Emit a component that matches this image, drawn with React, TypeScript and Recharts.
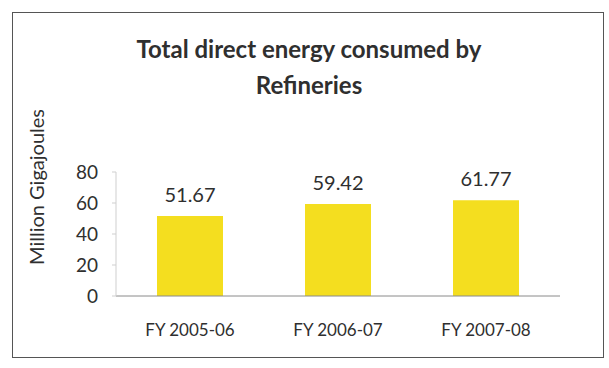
import React from "react";
import { BarChart, Bar, XAxis, YAxis, LabelList } from "recharts";

const categories = ["FY 2005-06", "FY 2006-07", "FY 2007-08"];
const energyValues = [51.67, 59.42, 61.77];
const yTicks = [0, 20, 40, 60, 80];
const titleLines = ["Total direct energy consumed by", "Refineries"];
const yAxisTitle = "Million Gigajoules";

const data = categories.map((c, i) => ({ name: c, value: energyValues[i] }));

const FONT = "Lato, 'Open Sans', sans-serif";
const TEXT = "#2f2f2f";

export default function App() {
  return (
    <div style={{ position: "absolute", left: 0, top: 0, width: 609, height: 368, background: "#fff", fontFamily: FONT }}>
      <div style={{ position: "absolute", left: 12, top: 12, width: 592, height: 346, border: "1.5px solid #555", boxSizing: "border-box" }} />
      <div style={{ position: "absolute", left: 0, top: 31, width: 618, textAlign: "center", fontWeight: 700, fontSize: 24, lineHeight: "36px", color: TEXT }}>
        {titleLines.map((t) => (
          <div key={t}>{t}</div>
        ))}
      </div>
      <div style={{ position: "absolute", left: 36, top: 187, width: 0, height: 0 }}>
        <div style={{ position: "absolute", left: 0, top: 0, transform: "translate(-50%, -50%) rotate(-90deg)", whiteSpace: "nowrap", fontSize: 20, lineHeight: "22px", color: TEXT }}>
          {yAxisTitle}
        </div>
      </div>
      <div style={{ position: "absolute", left: 0, top: 0 }}>
        <BarChart width={609} height={368} data={data} margin={{ top: 172, right: 49, bottom: 22, left: 0 }}>
          <XAxis
            dataKey="name"
            height={50}
            tickLine={false}
            tickSize={0}
            tickMargin={28}
            axisLine={{ stroke: "#8a8a8a", strokeWidth: 1 }}
            tick={{ fill: TEXT, fontSize: 17, fontFamily: FONT }}
          />
          <YAxis
            width={116}
            domain={[0, 80]}
            ticks={yTicks}
            interval={0}
            tickSize={4}
            tickMargin={14}
            axisLine={{ stroke: "#cfcfcf" }}
            tickLine={{ stroke: "#cfcfcf" }}
            tick={{ fill: TEXT, fontSize: 19, fontFamily: FONT }}
          />
          <Bar dataKey="value" fill="#F4DE1F" barSize={66} isAnimationActive={false}>
            <LabelList dataKey="value" position="top" offset={14} fill={TEXT} fontSize={20} fontFamily={FONT} />
          </Bar>
        </BarChart>
      </div>
    </div>
  );
}
